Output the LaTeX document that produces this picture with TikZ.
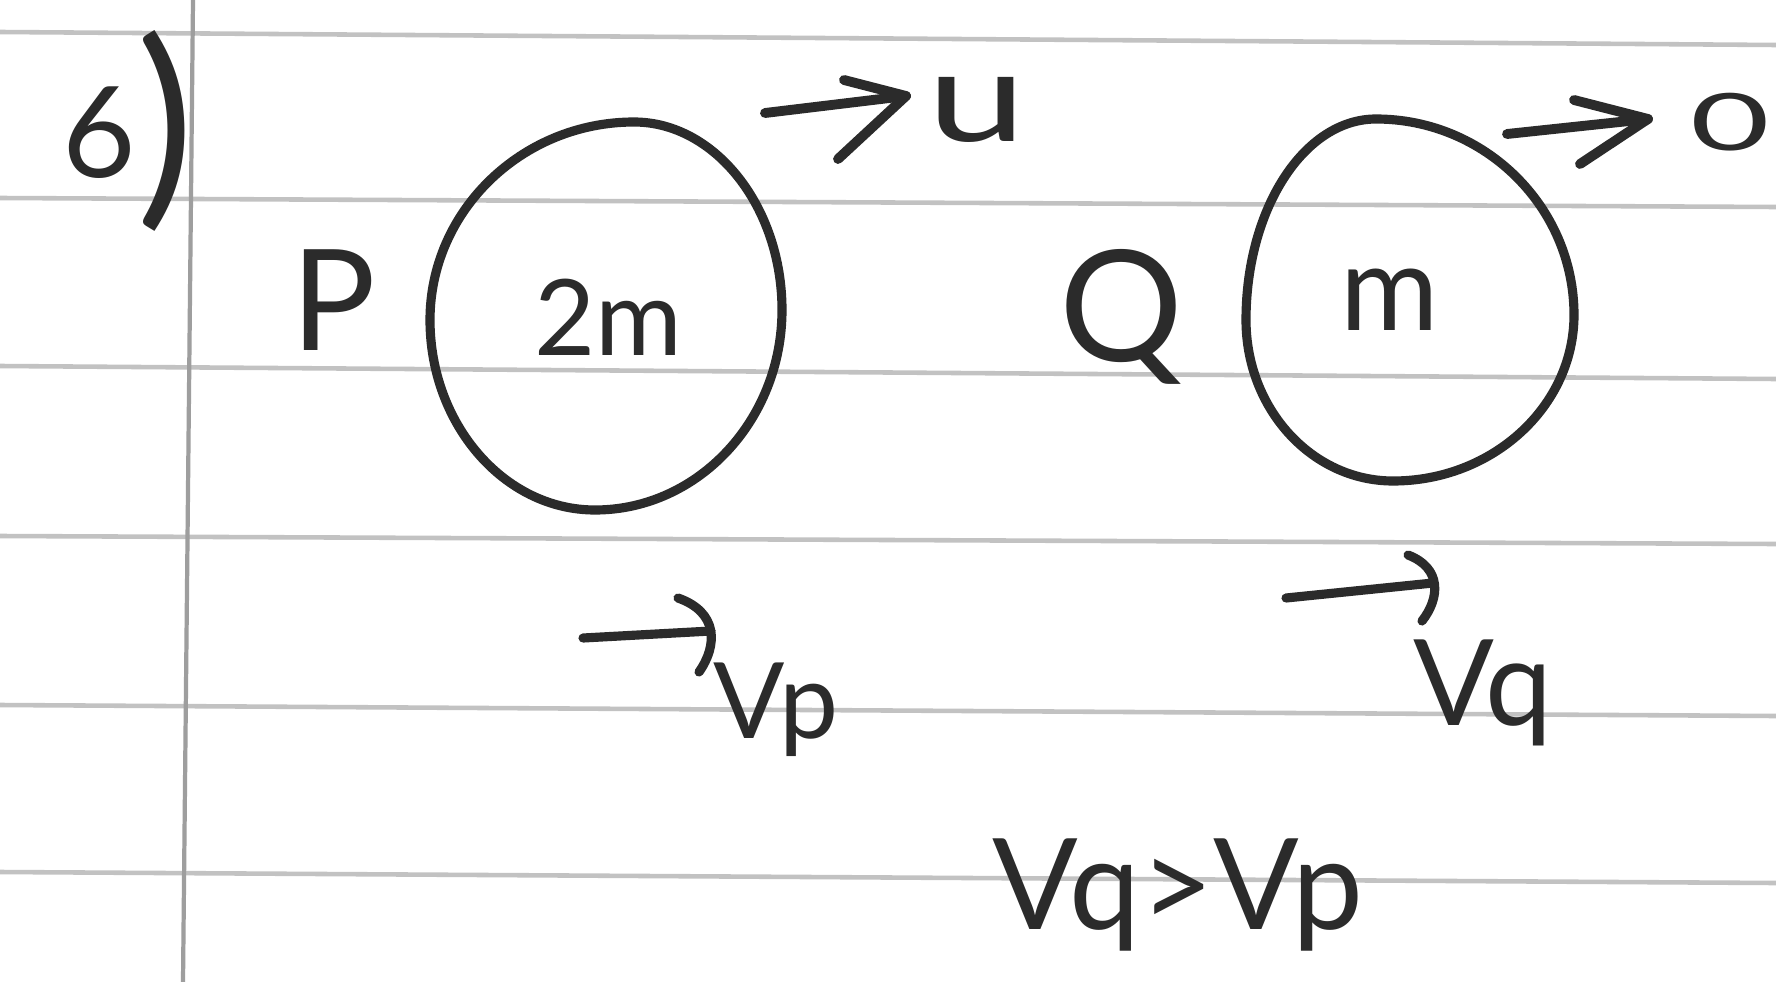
\documentclass[tikz,border=0pt]{standalone}
\usepackage{fontspec}
\setmainfont{Lato}
\definecolor{inkc}{HTML}{2B2B2B}
\definecolor{rulec}{HTML}{C2C2C2}
\definecolor{marginc}{HTML}{9E9E9E}
\begin{document}
\begin{tikzpicture}[x=0.01cm,y=-0.01cm,
  rule/.style={draw=rulec,line width=1.3pt},
  marginline/.style={draw=marginc,line width=1.2pt},
  ink/.style={draw=inkc,line width=2.6pt,line cap=round,line join=round},
  hand/.style={text=inkc,inner sep=0pt,font=\fontsize{30}{30}\selectfont}]
\fill[white] (0,0) rectangle (1776,982);
\useasboundingbox (0,0) rectangle (1776,982);
% ruled paper
\draw[rule] (0,32) -- (1776,45);
\draw[rule] (0,198) -- (1776,207);
\draw[rule] (0,366) -- (1776,379);
\draw[rule] (0,536) -- (1776,544);
\draw[rule] (0,705) -- (1776,716);
\draw[rule] (0,872) -- (1776,883);
\draw[marginline] (193,0) -- (183,982);
% question number
\node[hand,anchor=base west] (num) at (62,178) {\fontsize{36}{36}\selectfont 6\fontsize{62}{62}\selectfont\raisebox{-6pt}{)}};
% ball P
\node[hand,font=\fontsize{40}{40}\selectfont] (P) at (334,300) {P};
\draw[ink] (634,122) .. controls (715,122) and (782,207) .. (782,310)
  .. controls (782,420) and (698,510) .. (595,510)
  .. controls (504,510) and (430,424) .. (430,320)
  .. controls (430,211) and (522,122) .. cycle;
\node[hand] (m2) at (608,317) {2m};
% ball Q
\node[hand,font=\fontsize{44}{44}\selectfont] (Q) at (1121,317) {Q};
\draw[ink] (1376,119) .. controls (1485,119) and (1574,207) .. (1574,315)
  .. controls (1574,406) and (1493,481) .. (1393,481)
  .. controls (1312,481) and (1246,409) .. (1246,320)
  .. controls (1246,209) and (1304,119) .. cycle;
\node[hand,font=\fontsize{34}{34}\selectfont] (m1) at (1390,300) {m};
% velocity u
\coordinate (ut) at (765,113);
\coordinate (uh) at (906,96);
\coordinate (ua) at (844,80);
\coordinate (ub) at (838,159);
\draw[ink,line width=2.8pt] (ut) -- (uh);
\draw[ink,line width=2.8pt] (ua) -- (uh) -- (ub);
\node[hand,font=\fontsize{36}{36}\selectfont] (u) at (977,110) {\scalebox{1.4}[1]{u}};
% velocity 0
\coordinate (zt) at (1507,134);
\coordinate (zh) at (1648,119);
\coordinate (za) at (1574,100);
\coordinate (zb) at (1580,164);
\draw[ink,line width=2.8pt] (zt) -- (zh);
\draw[ink,line width=2.8pt] (za) -- (zh) -- (zb);
\node[hand] (zero) at (1730,122) {\scalebox{1.3}[0.75]{0}};
% vector vp
\coordinate (pt) at (583,638);
\coordinate (ph) at (711,631);
\coordinate (pa) at (678,598);
\coordinate (pb) at (699,672);
\draw[ink] (pt) -- (ph);
\draw[ink] (pa) .. controls (718,612) and (718,645) .. (pb);
\node[hand,anchor=base] (vp) at (776,738) {Vp};
% vector vq
\coordinate (qt) at (1286,598);
\coordinate (qh) at (1433,583);
\coordinate (qa) at (1408,555);
\coordinate (qb) at (1422,621);
\draw[ink] (qt) -- (qh);
\draw[ink] (qa) .. controls (1442,568) and (1440,598) .. (qb);
\node[hand,anchor=base,font=\fontsize{34}{34}\selectfont] (vq) at (1483,725) {Vq};
% comparison
\node[hand,anchor=base,font=\fontsize{36}{36}\selectfont] (cmp) at (1178,929) {Vq>Vp};
\end{tikzpicture}
\end{document}
